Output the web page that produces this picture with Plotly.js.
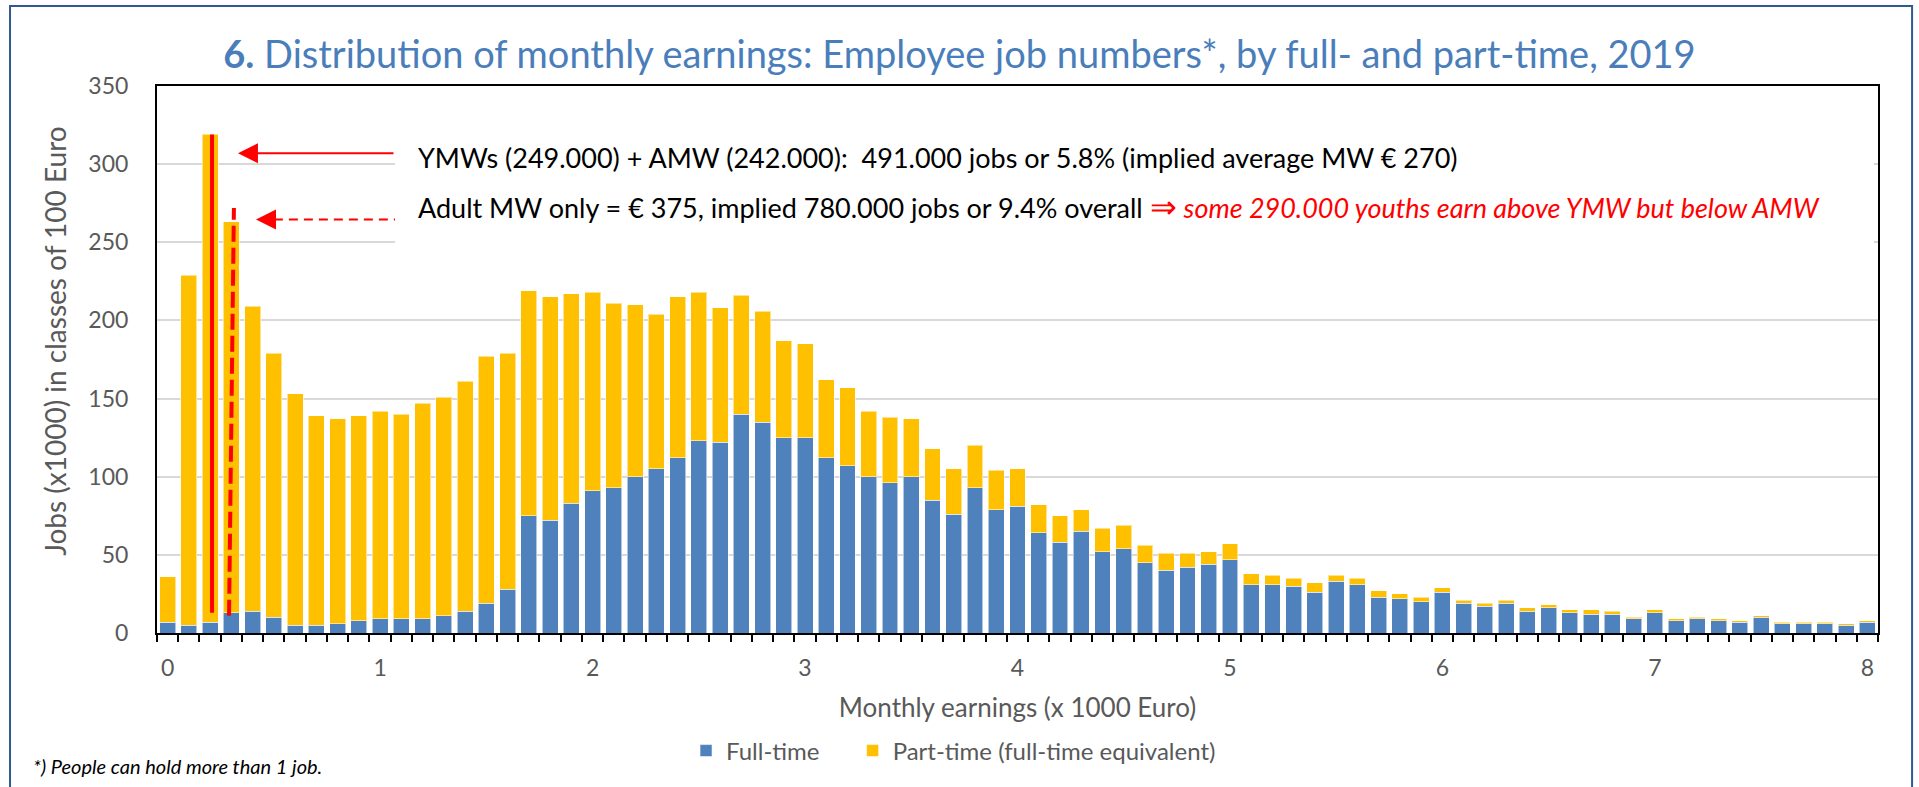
<!DOCTYPE html>
<html>
<head>
<meta charset="utf-8">
<script src="https://cdn.plot.ly/plotly-3.0.1.min.js"></script>
<style>
  html, body { margin: 0; padding: 0; background: #ffffff; }
  #chart { width: 1919px; height: 787px; }
</style>
</head>
<body>
<div id="chart"></div>
<script>
// Monthly earnings classes (x 1000 Euro)
const earnings = [
  0.0, 0.1, 0.2, 0.3, 0.4, 0.5, 0.6, 0.7, 0.8, 0.9,
  1.0, 1.1, 1.2, 1.3, 1.4, 1.5, 1.6, 1.7, 1.8, 1.9,
  2.0, 2.1, 2.2, 2.3, 2.4, 2.5, 2.6, 2.7, 2.8, 2.9,
  3.0, 3.1, 3.2, 3.3, 3.4, 3.5, 3.6, 3.7, 3.8, 3.9,
  4.0, 4.1, 4.2, 4.3, 4.4, 4.5, 4.6, 4.7, 4.8, 4.9,
  5.0, 5.1, 5.2, 5.3, 5.4, 5.5, 5.6, 5.7, 5.8, 5.9,
  6.0, 6.1, 6.2, 6.3, 6.4, 6.5, 6.6, 6.7, 6.8, 6.9,
  7.0, 7.1, 7.2, 7.3, 7.4, 7.5, 7.6, 7.7, 7.8, 7.9,
  8.0
];

// Jobs (x1000), full-time
const fullTime = [
  7, 5, 7, 13, 14, 10, 5, 5, 6, 8,
  9, 9, 9, 11, 14, 19, 28, 75, 72, 83,
  91, 93, 100, 105, 112, 123, 122, 140, 135, 125,
  125, 112, 107, 100, 96, 100, 85, 76, 93, 79,
  81, 64, 58, 65, 52, 54, 45, 40, 42, 44,
  47, 31, 31, 30, 26, 33, 31, 23, 22, 20,
  26, 19, 17, 19, 14, 16, 13, 12, 12, 9,
  13, 8, 9, 8, 7, 10, 6, 6, 6, 5,
  7
];

// Jobs (x1000), part-time (full-time equivalent)
const partTime = [
  29, 224, 312, 250, 195, 169, 148, 134, 131, 131,
  133, 131, 138, 140, 147, 158, 151, 144, 143, 134,
  127, 118, 110, 99, 103, 95, 86, 76, 71, 62,
  60, 50, 50, 42, 42, 37, 33, 29, 27, 25,
  24, 18, 17, 14, 15, 15, 11, 11, 9, 8,
  10, 7, 6, 5, 6, 4, 4, 4, 3, 3,
  3, 2, 2, 2, 2, 2, 2, 3, 2, 1,
  2, 1, 1, 1, 1, 1, 1, 1, 1, 1,
  1
];

const xTickVals = [0, 1, 2, 3, 4, 5, 6, 7, 8];
const xTickText = ["0", "1", "2", "3", "4", "5", "6", "7", "8"];
const yTickVals = [0, 50, 100, 150, 200, 250, 300, 350];

const seriesNames = ["Full-time", "Part-time (full-time equivalent)"];

// Small tick marks on the category boundaries between bars
const boundaryTicks = [];
for (let i = 0; i <= earnings.length; i++) boundaryTicks.push((i - 0.5) / 10);

const BLUE = "#4F81BD";
const YELLOW = "#FFC000";
const GREY = "#595959";
const FONT = "Lato, 'Open Sans', sans-serif";

const traces = [
  {
    type: "bar", name: seriesNames[0], x: earnings, y: fullTime, legend: "legend",
    marker: { color: BLUE, line: { color: "rgba(255,255,255,0.55)", width: 1 } },
    hoverinfo: "x+y+name"
  },
  {
    type: "bar", name: seriesNames[1], x: earnings, y: partTime, legend: "legend2",
    marker: { color: YELLOW, line: { color: "rgba(255,255,255,0.55)", width: 1 } },
    hoverinfo: "x+y+name"
  },
  {
    type: "scatter", x: [-0.05, 8.05], y: [0, 0], xaxis: "x2", yaxis: "y",
    mode: "lines", line: { width: 0, color: "rgba(0,0,0,0)" },
    showlegend: false, hoverinfo: "skip"
  }
];

const layout = {
  width: 1919, height: 787,
  paper_bgcolor: "#ffffff", plot_bgcolor: "#ffffff",
  margin: { l: 157, r: 41, t: 86, b: 154, pad: 0 },
  font: { family: FONT, color: GREY, size: 23 },
  barmode: "stack",
  bargap: 0.25,
  showlegend: true,
  title: {
    text: "<b>6.</b> Distribution of monthly earnings: Employee job numbers*, by full- and part-time, 2019",
    font: { family: FONT, size: 38, color: "#4A7EBB" },
    x: 0.5, xanchor: "center", xref: "container",
    y: 0.930, yanchor: "middle", yref: "container"
  },
  xaxis: {
    range: [-0.05, 8.05],
    tickmode: "array", tickvals: xTickVals, ticktext: xTickText,
    ticks: "", showgrid: false, zeroline: false,
    showline: true, linecolor: "#000000", linewidth: 2, mirror: true,
    tickfont: { family: FONT, size: 23, color: GREY },
    ticklabelstandoff: 13,
    title: { text: "Monthly earnings (x 1000 Euro)", font: { family: FONT, size: 26, color: GREY }, standoff: 19 },
    fixedrange: true
  },
  xaxis2: {
    range: [-0.05, 8.05], overlaying: "x", anchor: "y", side: "bottom",
    tickmode: "array", tickvals: boundaryTicks,
    ticks: "outside", ticklen: 8, tickwidth: 2, tickcolor: "#000000",
    showticklabels: false, showgrid: false, zeroline: false, showline: false,
    fixedrange: true
  },
  yaxis: {
    range: [0, 350],
    tickmode: "array", tickvals: yTickVals,
    showgrid: true, gridcolor: "#D9D9D9", gridwidth: 2,
    zeroline: false, ticks: "",
    showline: true, linecolor: "#000000", linewidth: 2, mirror: true,
    tickfont: { family: FONT, size: 23, color: GREY },
    ticklabelstandoff: 22,
    fixedrange: true
  },
  legend: {
    orientation: "h", x: 0.3074, xanchor: "left", y: -0.2157, yanchor: "middle",
    font: { family: FONT, size: 24, color: GREY }, itemwidth: 30
  },
  legend2: {
    orientation: "h", x: 0.4042, xanchor: "left", y: -0.2157, yanchor: "middle",
    font: { family: FONT, size: 24, color: GREY }, itemwidth: 30
  },
  shapes: [
    // outer frame
    { type: "rect", xref: "paper", yref: "paper", x0: -0.0854, x1: 1.0198, y0: -0.287, y1: 1.1463,
      line: { color: "#2F5A8E", width: 2 }, fillcolor: "rgba(0,0,0,0)", layer: "above" },
    // white text box hiding gridlines behind the annotation text
    { type: "rect", xref: "x", yref: "y", x0: 1.07, x1: 8.03, y0: 240, y1: 332,
      line: { width: 0 }, fillcolor: "#ffffff", layer: "between" },
    // solid vertical red line (YMW)
    { type: "line", xref: "x", yref: "y", x0: 0.209, x1: 0.209, y0: 13, y1: 319,
      line: { color: "#FF0000", width: 4 }, layer: "above" },
    // dashed vertical red line (AMW)
    { type: "line", xref: "x", yref: "y", x0: 0.289, x1: 0.312, y0: 11, y1: 272,
      line: { color: "#FF0000", width: 4, dash: "16px,6px" }, layer: "above" },
    // dashed horizontal arrow shaft
    { type: "line", xref: "x", yref: "y", x0: 0.50, x1: 1.07, y0: 264.5, y1: 264.5,
      line: { color: "#FF0000", width: 2, dash: "9px,6px" }, layer: "above" }
  ],
  annotations: [
    // y-axis title
    { xref: "paper", yref: "paper", x: -0.0593, y: 0.534, xanchor: "center", yanchor: "middle",
      textangle: -90, showarrow: false, font: { family: FONT, size: 28, color: GREY },
      text: "Jobs (x1000) in classes of 100 Euro" },
    { xref: "x", yref: "y", x: 0.331, y: 307, ax: 1.07, ay: 307, axref: "x", ayref: "y",
      text: "", showarrow: true, arrowhead: 2, arrowsize: 2, arrowwidth: 2, arrowcolor: "#FF0000" },
    { xref: "x", yref: "y", x: 0.416, y: 264.5, ax: 0.50, ay: 264.5, axref: "x", ayref: "y",
      text: "", showarrow: true, arrowhead: 2, arrowsize: 2, arrowwidth: 2, arrowcolor: "#FF0000" },
    { xref: "paper", yref: "paper", x: 0.1505, y: 0.870, xanchor: "left", yanchor: "middle",
      showarrow: false, font: { family: FONT, size: 27, color: "#000000" },
      text: "YMWs (249.000) + AMW (242.000):  491.000 jobs or 5.8% (implied average MW € 270)" },
    { xref: "paper", yref: "paper", x: 0.1505, y: 0.781, xanchor: "left", yanchor: "middle",
      showarrow: false, font: { family: FONT, size: 27, color: "#000000" },
      text: "Adult MW only = € 375, implied 780.000 jobs or 9.4% overall <span style='color:#FF0000'><span style='font-size:32px'>⇒</span> <i>some 290.000 youths earn above YMW but below AMW</i></span>" },
    { xref: "paper", yref: "paper", x: -0.0732, y: -0.243, xanchor: "left", yanchor: "middle",
      showarrow: false, font: { family: FONT, size: 20, color: "#000000" },
      text: "<i>*) People can hold more than 1 job.</i>" }
  ]
};

Plotly.newPlot("chart", traces, layout, { displayModeBar: false, staticPlot: true });
</script>
</body>
</html>
